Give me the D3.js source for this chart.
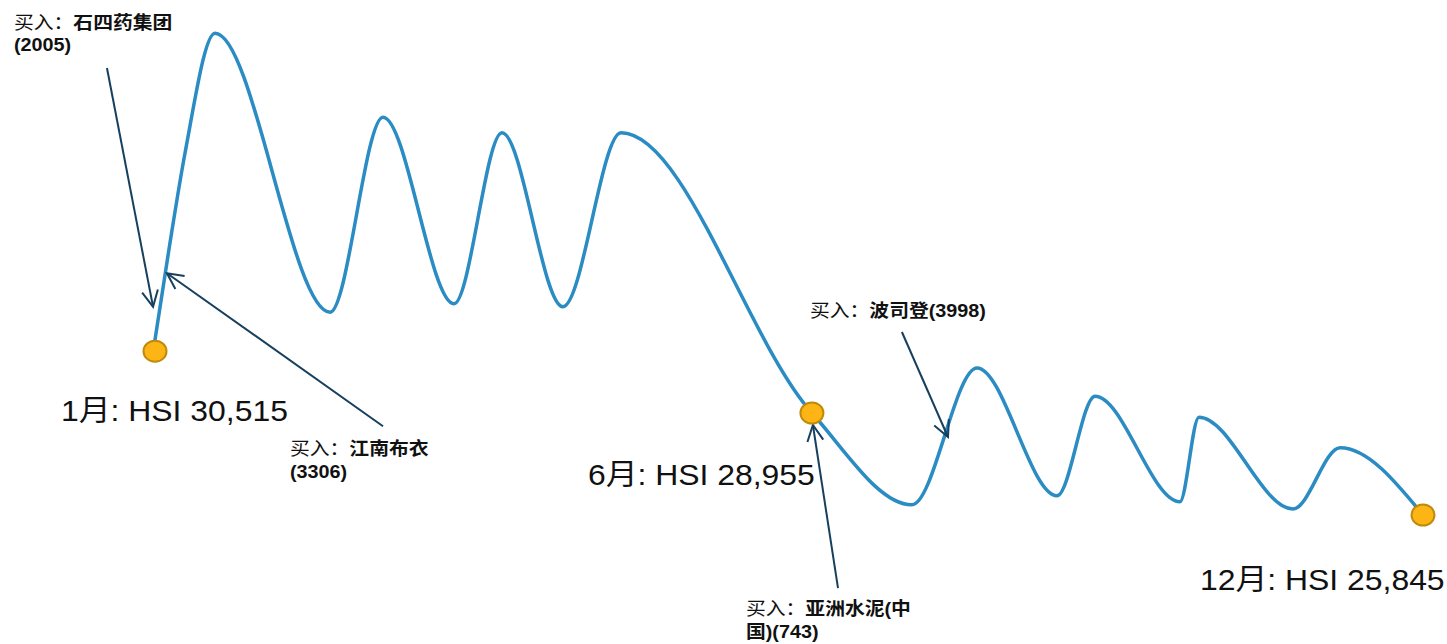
<!DOCTYPE html>
<html>
<head>
<meta charset="utf-8">
<script src="https://cdn.jsdelivr.net/npm/d3@7"></script>
<style>
  body { margin: 0; background: #fff; }
  svg text { font-family: "Liberation Sans", Arial, "Noto Sans CJK SC", sans-serif; fill: #111; }
</style>
</head>
<body>
<div id="chart"></div>
<script>
// schematic path of the index over the year: week number and a relative level
const pathWeeks  = [0, 0.57, 1.23, 2.46, 7.18, 9.35, 12.26, 14.23, 16.73, 19.11, 26.94, 31.04, 33.71, 36.99, 38.55, 42.03, 42.81, 46.67, 48.6, 52];
const pathLevels = [46.7, 61.7, 77.8, 97.8, 51.3, 83.8, 52.7, 81.2, 52.2, 81.2, 34.5, 19.2, 42.0, 20.7, 37.3, 19.7, 33.8, 18.5, 28.7, 17.5];

// the three marked months
const markWeeks  = [0, 26.94, 52];
const markLevels = [44.8, 34.5, 17.5];
const markLabels = ["1月: HSI 30,515", "6月: HSI 28,955", "12月: HSI 25,845"];

// buy annotations: arrow tail -> tip (week, level)
const buyNames = ["石四药集团", "江南布衣", "亚洲水泥(中国)", "波司登"];
const buyCodes = ["2005", "3306", "743", "3998"];
const arrowFrom = [[-1.97, 92.0], [9.35, 32.3], [28.01, 5.3], [30.63, 48.0]];
const arrowTo   = [[-0.08, 52.2], [0.49, 57.8], [26.98, 32.5], [32.52, 30.5]];

const width = 1447, height = 644;
const stretch = 1.1;

const svg = d3.select("#chart").append("svg")
    .attr("width", width)
    .attr("height", height);

const x = d3.scaleLinear().domain([0, 52]).range([155, 1423]);
const y = d3.scaleLinear().domain([0, 100]).range([620, 20]);

svg.append("defs").append("marker")
    .attr("id", "head")
    .attr("markerUnits", "userSpaceOnUse")
    .attr("viewBox", "-18 -10 20 20")
    .attr("refX", 0).attr("refY", 0)
    .attr("markerWidth", 20).attr("markerHeight", 20)
    .attr("orient", "auto")
    .append("path")
    .attr("d", "M-16,-8 L0,0 L-16,8")
    .attr("fill", "none")
    .attr("stroke", "#173f5e")
    .attr("stroke-width", 2);

const pts = pathWeeks.map((w, i) => ({ w: w, v: pathLevels[i] }));

const line = d3.line()
    .curve(d3.curveMonotoneX)
    .x(d => x(d.w))
    .y(d => y(d.v));

svg.append("path")
    .datum(pts)
    .attr("fill", "none")
    .attr("stroke", "#2b8bc3")
    .attr("stroke-width", 3.5)
    .attr("stroke-linecap", "round")
    .attr("d", line);

// arrows
svg.selectAll(".arrow")
    .data(arrowFrom)
    .join("line")
    .attr("class", "arrow")
    .attr("x1", d => x(d[0]))
    .attr("y1", d => y(d[1]))
    .attr("x2", (d, i) => x(arrowTo[i][0]))
    .attr("y2", (d, i) => y(arrowTo[i][1]))
    .attr("stroke", "#173f5e")
    .attr("stroke-width", 2)
    .attr("marker-end", "url(#head)");

// dots
svg.selectAll(".dot")
    .data(markWeeks)
    .join("ellipse")
    .attr("class", "dot")
    .attr("cx", d => x(d))
    .attr("cy", (d, i) => y(markLevels[i]))
    .attr("rx", 11.5)
    .attr("ry", 10.5)
    .attr("fill", "#fdb515")
    .attr("stroke", "#c08a0a")
    .attr("stroke-width", 2);

// month labels, offset from their dots
const markOffsets = [[-94, 70], [-224, 72], [-223, 75]];
markWeeks.forEach((w, i) => {
    svg.append("text")
        .attr("transform", "translate(" + (x(w) + markOffsets[i][0]) + "," + (y(markLevels[i]) + markOffsets[i][1]) + ") scale(" + stretch + ",1)")
        .attr("font-size", 29)
        .text(markLabels[i]);
});

// buy labels: position of first line, and where the name wraps
const buyPos = [[14, 28.5], [290, 455], [746, 615], [810, 317]];
const buyWrap = [
    [["买入：", false], [buyNames[0], true], ["\n"], ["(" + buyCodes[0] + ")", true]],
    [["买入：", false], [buyNames[1], true], ["\n"], ["(" + buyCodes[1] + ")", true]],
    [["买入：", false], ["亚洲水泥(中", true], ["\n"], ["国)(" + buyCodes[2] + ")", true]],
    [["买入：", false], [buyNames[3] + "(" + buyCodes[3] + ")", true]]
];

buyWrap.forEach((parts, i) => {
    const t = svg.append("text")
        .attr("transform", "translate(" + buyPos[i][0] + "," + buyPos[i][1] + ") scale(" + stretch + ",1)")
        .attr("font-size", 18);
    let newLine = false;
    parts.forEach(p => {
        if (p[0] === "\n") { newLine = true; return; }
        const s = t.append("tspan")
            .attr("font-weight", p[1] ? "bold" : "normal")
            .text(p[0]);
        if (newLine) { s.attr("x", 0).attr("dy", 23); newLine = false; }
    });
});
</script>
</body>
</html>
